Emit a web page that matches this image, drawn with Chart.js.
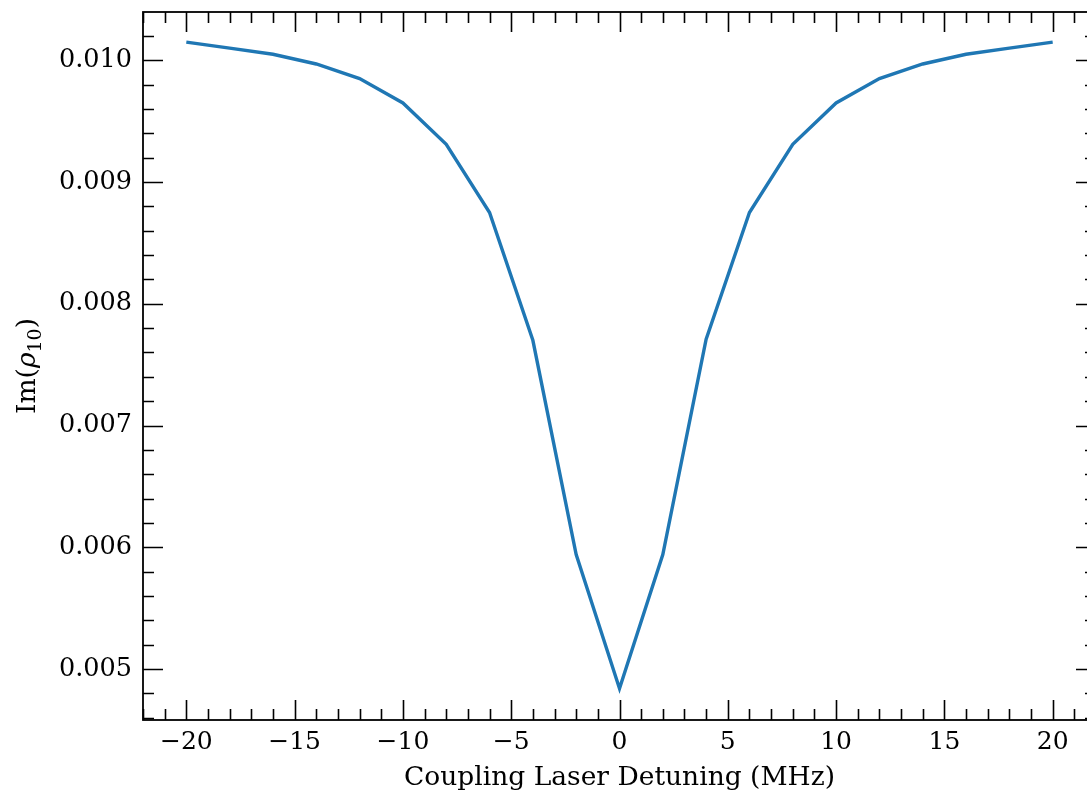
<!DOCTYPE html>
<html lang="en">
<head>
    <meta charset="UTF-8">
    <title>Im(rho10) vs coupling detuning</title>
    <script src="https://cdn.jsdelivr.net/npm/chart.js"></script>
    <style>
        html, body {
            margin: 0;
            padding: 0;
            background: #ffffff;
            overflow: hidden;
            width: 1087px;
            height: 794px;
        }
        #wrap {
            position: relative;
            width: 1100px;
            height: 794px;
        }
    </style>
</head>
<body>
    <div id="wrap">
        <canvas id="rhoChart" width="1100" height="794"></canvas>
    </div>
    <script>
        // Coupling laser detuning (MHz) and Im(rho_10)
        const detuning = [-20, -18, -16, -14, -12, -10, -8, -6, -4, -2, 0, 2, 4, 6, 8, 10, 12, 14, 16, 18, 20];
        const imRho = [
            0.01015, 0.01010, 0.01005, 0.00997, 0.00985, 0.00965, 0.00931, 0.00875, 0.00770, 0.00594,
            0.00484,
            0.00594, 0.00771, 0.00875, 0.00931, 0.00965, 0.00985, 0.00997, 0.01005, 0.01010, 0.01015
        ];

        const xTicks = [-20, -15, -10, -5, 0, 5, 10, 15, 20];
        const yTicks = [0.005, 0.006, 0.007, 0.008, 0.009, 0.010];
        const xMinorStep = 1;
        const yMinorStep = 0.0002;

        const FONT = "'DejaVu Serif', serif";
        const INK = '#000000';

        // inward ticks on all four sides plus the frame, matplotlib style
        const frameTicks = {
            id: 'frameTicks',
            afterDraw(chart) {
                const { ctx, chartArea: a, scales } = chart;
                const xs = scales.x, ys = scales.y;
                const major = 20, minor = 11;
                ctx.save();
                ctx.strokeStyle = INK;
                ctx.lineWidth = 1.6;
                ctx.beginPath();

                const xMin = Math.ceil(xs.min / xMinorStep) * xMinorStep;
                for (let v = xMin; v <= xs.max + 1e-9; v += xMinorStep) {
                    const isMajor = xTicks.some(t => Math.abs(t - v) < 1e-9);
                    const len = isMajor ? major : minor;
                    const px = Math.round(xs.getPixelForValue(v)) + 0.5;
                    ctx.moveTo(px, a.bottom); ctx.lineTo(px, a.bottom - len);
                    ctx.moveTo(px, a.top); ctx.lineTo(px, a.top + len);
                }

                const yMin = Math.ceil(ys.min / yMinorStep) * yMinorStep;
                for (let v = yMin; v <= ys.max + 1e-12; v += yMinorStep) {
                    const isMajor = yTicks.some(t => Math.abs(t - v) < 1e-9);
                    const len = isMajor ? major : minor;
                    const py = Math.round(ys.getPixelForValue(v)) + 0.5;
                    ctx.moveTo(a.left, py); ctx.lineTo(a.left + len, py);
                    ctx.moveTo(a.right, py); ctx.lineTo(a.right - len, py);
                }
                ctx.stroke();

                ctx.lineWidth = 1.8;
                ctx.strokeRect(a.left, a.top, a.right - a.left, a.bottom - a.top);

                // y axis title: Im(rho_10) with italic rho and subscript
                const size = 26.5;
                const parts = [
                    { t: 'Im(', f: `${size}px ${FONT}`, dy: 0 },
                    { t: 'ρ', f: `italic ${size}px ${FONT}`, dy: 0 },
                    { t: '10', f: `${Math.round(size * 0.7)}px ${FONT}`, dy: 6 },
                    { t: ')', f: `${size}px ${FONT}`, dy: 0 }
                ];
                let total = 0;
                parts.forEach(p => { ctx.font = p.f; p.w = ctx.measureText(p.t).width; total += p.w; });
                ctx.translate(35, (a.top + a.bottom) / 2);
                ctx.rotate(-Math.PI / 2);
                ctx.fillStyle = INK;
                ctx.textBaseline = 'alphabetic';
                let x = -total / 2;
                parts.forEach(p => {
                    ctx.font = p.f;
                    ctx.fillText(p.t, x, p.dy);
                    x += p.w;
                });
                ctx.restore();
            }
        };

        const ctx = document.getElementById('rhoChart').getContext('2d');
        new Chart(ctx, {
            type: 'line',
            data: {
                datasets: [{
                    label: 'Im(rho10)',
                    data: detuning.map((d, i) => ({ x: d, y: imRho[i] })),
                    borderColor: '#1f77b4',
                    borderWidth: 3.4,
                    pointRadius: 0,
                    tension: 0,
                    fill: false
                }]
            },
            options: {
                responsive: false,
                animation: false,
                devicePixelRatio: 1,
                layout: { padding: { top: 12, right: 4, left: 0, bottom: 0 } },
                plugins: {
                    legend: { display: false },
                    tooltip: { enabled: false }
                },
                scales: {
                    x: {
                        type: 'linear',
                        min: -22,
                        max: 22,
                        afterBuildTicks: s => { s.ticks = xTicks.map(v => ({ value: v })); },
                        afterFit: s => { s.height = 74; s.paddingLeft = 0; s.paddingRight = 0; },
                        grid: { display: false, drawTicks: false },
                        border: { display: false },
                        ticks: {
                            color: INK,
                            padding: 7,
                            maxRotation: 0,
                            font: { family: FONT, size: 25 },
                            callback: v => v < 0 ? '\u2212' + Math.abs(v) : String(v)
                        },
                        title: {
                            display: true,
                            text: 'Coupling Laser Detuning (MHz)',
                            color: INK,
                            font: { family: FONT, size: 26.5, lineHeight: 1.2 },
                            padding: { top: 0, bottom: 0 }
                        }
                    },
                    y: {
                        type: 'linear',
                        min: 0.004581,
                        max: 0.010397,
                        afterBuildTicks: s => { s.ticks = yTicks.map(v => ({ value: v })); },
                        afterFit: s => { s.width = 143; s.paddingTop = 0; s.paddingBottom = 0; },
                        grid: { display: false, drawTicks: false },
                        border: { display: false },
                        ticks: {
                            color: INK,
                            padding: 11,
                            font: { family: FONT, size: 25.5 },
                            callback: v => v.toFixed(3)
                        },
                        title: { display: false }
                    }
                }
            },
            plugins: [frameTicks]
        });
    </script>
</body>
</html>
